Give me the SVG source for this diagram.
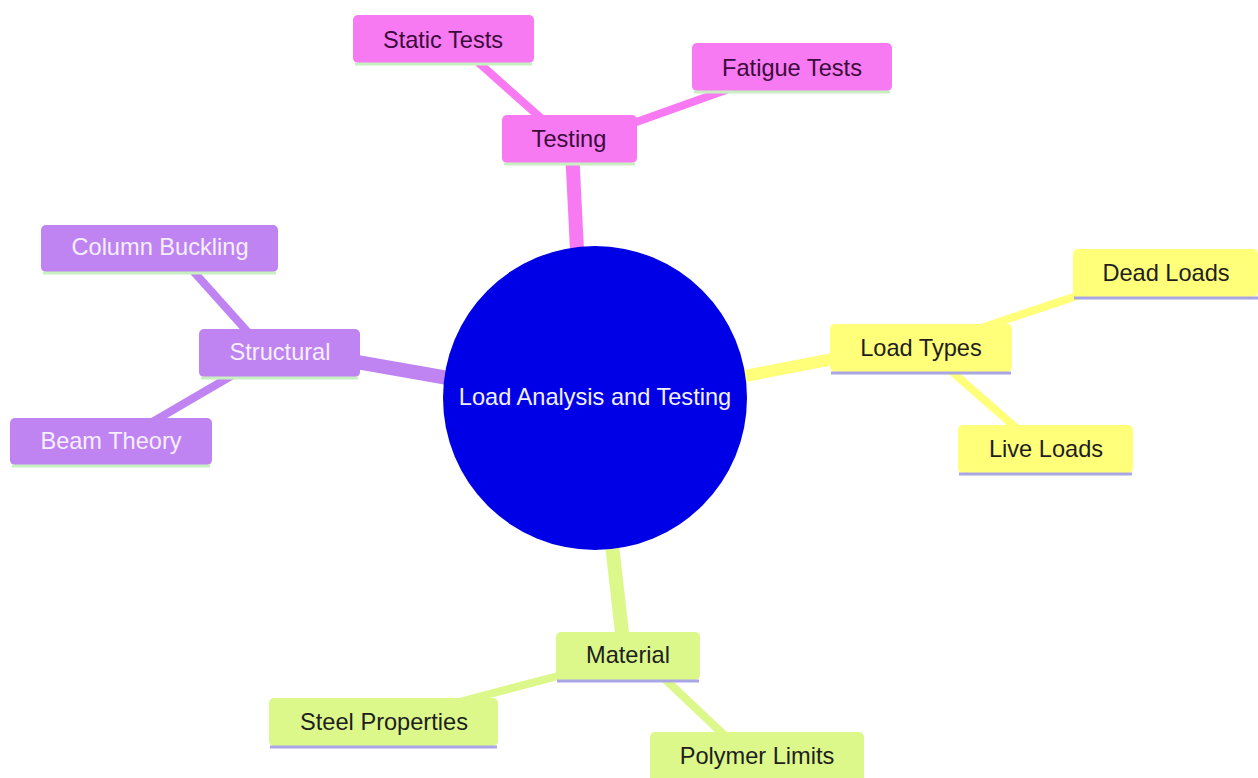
<svg xmlns="http://www.w3.org/2000/svg" width="1258" height="778" viewBox="0 0 1258 778">
<style>
text{font-family:"Liberation Sans",Arial,sans-serif;font-size:23.6px;text-anchor:middle;dominant-baseline:central}
.e{fill:none;stroke-linecap:butt}
.pk{fill:#f87af2}.pkl{stroke:#f87af2}
.pu{fill:#bf84f2}.pul{stroke:#bf84f2}
.ye{fill:#ffff7a}.yel{stroke:#ffff7a}
.li{fill:#dcf88a}.lil{stroke:#dcf88a}
.bg{stroke:#c8efc2;stroke-width:3}
.bl{stroke:#aaa6e6;stroke-width:3}
.tpk{fill:#3b0b3b}.tpu{fill:#f6efff}.tdk{fill:#1e1e1e}
</style>
<rect width="1258" height="778" fill="#ffffff"/>
<g id="connectors">
<line class="e pkl" x1="577" y1="250" x2="572" y2="150" stroke-width="14"/>
<line class="e pkl" x1="560" y1="135" x2="470" y2="55" stroke-width="8"/>
<line class="e pkl" x1="600" y1="135" x2="740" y2="85" stroke-width="8"/>
<line class="e yel" x1="745" y1="376" x2="880" y2="350" stroke-width="12"/>
<line class="e yel" x1="960" y1="335" x2="1110" y2="285" stroke-width="8"/>
<line class="e yel" x1="950" y1="370" x2="1030" y2="440" stroke-width="8"/>
<line class="e pul" x1="448" y1="378" x2="300" y2="352" stroke-width="14"/>
<line class="e pul" x1="255" y1="340" x2="185" y2="262" stroke-width="8"/>
<line class="e pul" x1="250" y1="365" x2="130" y2="435" stroke-width="8"/>
<line class="e lil" x1="612" y1="545" x2="624" y2="650" stroke-width="14"/>
<line class="e lil" x1="600" y1="665" x2="410" y2="715" stroke-width="8"/>
<line class="e lil" x1="650" y1="665" x2="740" y2="750" stroke-width="8"/>
</g>
<g id="root">
<circle cx="595" cy="398" r="152" fill="#0000e6"/>
<text x="595" y="397" fill="#f0f0ff">Load Analysis and Testing</text>
</g>
<g id="testing">
<rect class="pk" x="502" y="115" width="135" height="48" rx="5"/>
<line class="bg" x1="504" y1="164" x2="635" y2="164"/>
<text class="tpk" x="569" y="139">Testing</text>
</g>
<g id="static-tests">
<rect class="pk" x="353" y="15" width="181" height="48" rx="5"/>
<line class="bg" x1="355" y1="64" x2="532" y2="64"/>
<text class="tpk" x="443" y="40">Static Tests</text>
</g>
<g id="fatigue-tests">
<rect class="pk" x="692" y="43" width="200" height="48" rx="5"/>
<line class="bg" x1="694" y1="92" x2="890" y2="92"/>
<text class="tpk" x="792" y="68">Fatigue Tests</text>
</g>
<g id="load-types">
<rect class="ye" x="830" y="324" width="182" height="48" rx="5"/>
<line class="bl" x1="831" y1="373" x2="1011" y2="373"/>
<text class="tdk" x="921" y="348">Load Types</text>
</g>
<g id="dead-loads">
<rect class="ye" x="1073" y="249" width="185" height="48" rx="5"/>
<line class="bl" x1="1074" y1="298" x2="1258" y2="298"/>
<text class="tdk" x="1166" y="273">Dead Loads</text>
</g>
<g id="live-loads">
<rect class="ye" x="958" y="425" width="175" height="48" rx="5"/>
<line class="bl" x1="959" y1="474" x2="1132" y2="474"/>
<text class="tdk" x="1046" y="449">Live Loads</text>
</g>
<g id="structural">
<rect class="pu" x="199" y="329" width="161" height="48" rx="5"/>
<line class="bg" x1="201" y1="378" x2="358" y2="378"/>
<text class="tpu" x="280" y="352">Structural</text>
</g>
<g id="column-buckling">
<rect class="pu" x="41" y="225" width="237" height="47" rx="5"/>
<line class="bg" x1="43" y1="273" x2="276" y2="273"/>
<text class="tpu" x="160" y="247">Column Buckling</text>
</g>
<g id="beam-theory">
<rect class="pu" x="10" y="418" width="202" height="47" rx="5"/>
<line class="bg" x1="12" y1="466" x2="210" y2="466"/>
<text class="tpu" x="111" y="441">Beam Theory</text>
</g>
<g id="material">
<rect class="li" x="556" y="632" width="144" height="48" rx="5"/>
<line class="bl" x1="557" y1="681" x2="699" y2="681"/>
<text class="tdk" x="628" y="655">Material</text>
</g>
<g id="steel-properties">
<rect class="li" x="269" y="698" width="229" height="48" rx="5"/>
<line class="bl" x1="270" y1="747" x2="497" y2="747"/>
<text class="tdk" x="384" y="722">Steel Properties</text>
</g>
<g id="polymer-limits">
<rect class="li" x="650" y="732" width="214" height="50" rx="5"/>
<text class="tdk" x="757" y="756">Polymer Limits</text>
</g>
</svg>
